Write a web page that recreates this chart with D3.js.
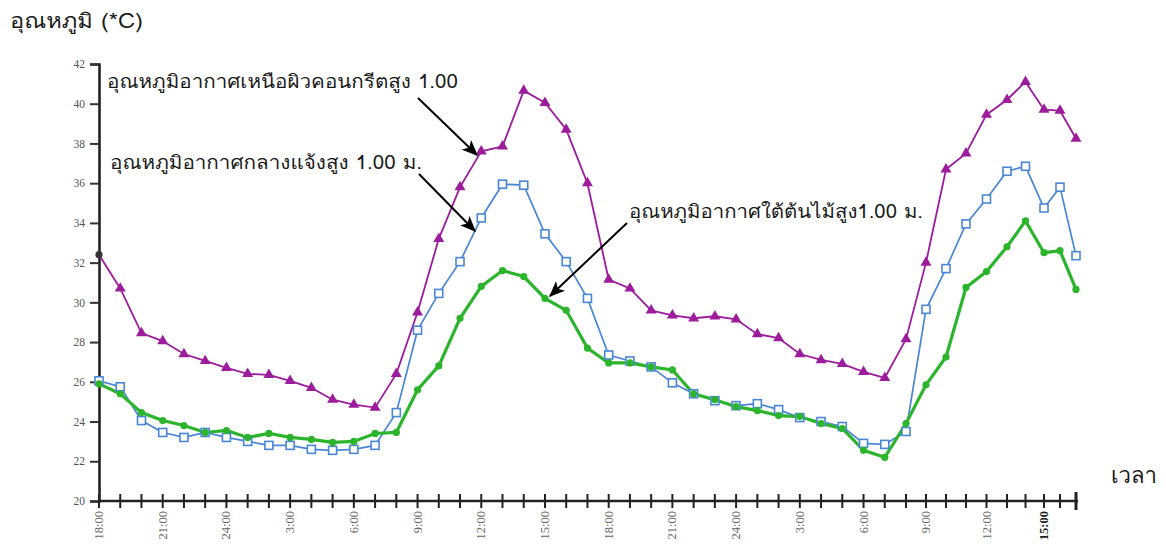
<!DOCTYPE html>
<html>
<head>
<meta charset="utf-8">
<script src="https://cdn.jsdelivr.net/npm/d3@7"></script>
<style>
  html, body { margin: 0; padding: 0; background: #fff; }
  svg { display: block; }
  .thai { font-family: "Waree", "Garuda", "Loma", "Noto Sans Thai", "Noto Sans", "DejaVu Sans", sans-serif; fill: #1a1a1a; }
  .tick-label { font-family: "Liberation Serif", "DejaVu Serif", serif; fill: #555; }
</style>
</head>
<body>
<svg id="chart" width="1166" height="550"></svg>
<script>
// Hourly readings, 18:00 on day 1 through 17:00 on day 3
const hours = d3.range(0, 48);
const tickLabels = ["18:00", "21:00", "24:00", "3:00", "6:00", "9:00", "12:00", "15:00",
                    "18:00", "21:00", "24:00", "3:00", "6:00", "9:00", "12:00", "15:00"];
const yTicks = [20, 22, 24, 26, 28, 30, 32, 34, 36, 38, 40, 42];

// Air temperature 1.00 m above the concrete surface
const concrete = [32.4, 30.7, 28.45, 28.05, 27.4, 27.05, 26.7, 26.4, 26.35, 26.05, 25.7, 25.1,
                  24.85, 24.7, 26.4, 29.5, 33.2, 35.8, 37.6, 37.85, 40.66, 40.05, 38.7, 36.0,
                  31.15, 30.7, 29.6, 29.35, 29.2, 29.3, 29.15, 28.4, 28.2, 27.4, 27.1, 26.9,
                  26.5, 26.2, 28.15, 32.0, 36.7, 37.5, 39.45, 40.2, 41.1, 39.7, 39.65, 38.25];
// Air temperature 1.00 m above open ground
const openGround = [26.05, 25.75, 24.05, 23.45, 23.2, 23.45, 23.2, 23.0, 22.8, 22.8, 22.6, 22.55,
                    22.6, 22.8, 24.45, 28.6, 30.45, 32.05, 34.25, 35.95, 35.9, 33.45, 32.05, 30.2,
                    27.35, 27.05, 26.75, 25.95, 25.4, 25.05, 24.8, 24.9, 24.6, 24.2, 24.0, 23.75,
                    22.9, 22.85, 23.5, 29.65, 31.7, 33.95, 35.2, 36.6, 36.85, 34.75, 35.8, 32.35];
// Air temperature 1.00 m high under the trees
const underTrees = [25.9, 25.4, 24.45, 24.05, 23.8, 23.45, 23.55, 23.2, 23.4, 23.2, 23.1, 22.95,
                    23.0, 23.4, 23.45, 25.6, 26.8, 29.2, 30.8, 31.6, 31.3, 30.2, 29.6, 27.7,
                    26.95, 26.95, 26.75, 26.6, 25.4, 25.1, 24.75, 24.55, 24.3, 24.25, 23.9, 23.65,
                    22.55, 22.2, 23.9, 25.85, 27.25, 30.75, 31.55, 32.8, 34.1, 32.5, 32.6, 30.65];

const svg = d3.select("#chart");

// The time axis tightens slightly over the last few hours
const x = d3.scaleLinear()
  .domain([0, 38, 41, 43, 45, 47])
  .range([99, 906, 966, 1007, 1044, 1076]);
const y = d3.scaleLinear().domain([20, 42]).range([501, 64]);

// Y axis
const yAxis = svg.append("g").attr("transform", `translate(${x(0)},0)`)
  .call(d3.axisLeft(y).tickValues(yTicks).tickSize(9).tickPadding(5).tickFormat(d3.format("d")));
yAxis.select(".domain").attr("stroke", "#222").attr("stroke-width", 2.6);
yAxis.selectAll(".tick line").attr("stroke", "#333").attr("stroke-width", 2);
yAxis.selectAll(".tick text").attr("class", "tick-label").attr("font-size", 11.5);

// X axis baseline with hourly tick marks crossing it
svg.append("line")
  .attr("x1", x(0)).attr("x2", x(47) + 2)
  .attr("y1", y(20)).attr("y2", y(20))
  .attr("stroke", "#222").attr("stroke-width", 2.6);
svg.append("g").selectAll("line").data(hours).join("line")
  .attr("x1", d => x(d)).attr("x2", d => x(d))
  .attr("y1", d => y(20) - (d === 47 ? 9 : 7))
  .attr("y2", d => y(20) + (d === 47 ? 9 : 7))
  .attr("stroke", "#222").attr("stroke-width", d => d === 47 ? 3 : 2);

svg.append("g").selectAll("text").data(tickLabels).join("text")
  .attr("class", "tick-label")
  .attr("font-size", 12.5)
  .attr("font-weight", (d, i) => i === tickLabels.length - 1 ? "bold" : "normal")
  .style("fill", (d, i) => i === tickLabels.length - 1 ? "#222" : "#666")
  .attr("text-anchor", "end")
  .attr("transform", (d, i) => `translate(${x(i * 3) + 4},511) rotate(-90)`)
  .text(d => d);

// Series lines
const line = d3.line().x((d, i) => x(i)).y(d => y(d));

svg.append("path").datum(concrete)
  .attr("fill", "none").attr("stroke", "#9c1c9c").attr("stroke-width", 1.8)
  .attr("d", line);
svg.append("path").datum(openGround)
  .attr("fill", "none").attr("stroke", "#4a86d6").attr("stroke-width", 1.7)
  .attr("d", line);
svg.append("path").datum(underTrees)
  .attr("fill", "none").attr("stroke", "#2cb52c").attr("stroke-width", 3.2)
  .attr("d", line);

// Markers: first concrete reading is drawn as a dark dot, the rest as triangles
const tri = d3.symbol().type(d3.symbolTriangle).size(52);
const dot = d3.symbol().type(d3.symbolCircle).size(40);
svg.append("g").selectAll("path").data(concrete).join("path")
  .attr("d", (d, i) => i === 0 ? dot() : tri())
  .attr("transform", (d, i) => `translate(${x(i)},${y(d)})`)
  .attr("fill", (d, i) => i === 0 ? "#333" : "#9c1c9c");

svg.append("g").selectAll("rect").data(openGround).join("rect")
  .attr("x", (d, i) => x(i) - 4).attr("y", d => y(d) - 4)
  .attr("width", 8).attr("height", 8)
  .attr("fill", "#fff").attr("stroke", "#4a86d6").attr("stroke-width", 1.6);

svg.append("g").selectAll("circle").data(underTrees).join("circle")
  .attr("cx", (d, i) => x(i)).attr("cy", d => y(d)).attr("r", 3.6)
  .attr("fill", "#2cb52c");

// Arrowhead
svg.append("defs").append("marker")
  .attr("id", "arrow").attr("viewBox", "0 0 12 10")
  .attr("refX", 11).attr("refY", 5)
  .attr("markerWidth", 8).attr("markerHeight", 7)
  .attr("markerUnits", "strokeWidth").attr("orient", "auto")
  .append("path").attr("d", "M0,0 L12,5 L0,10 L3,5 Z").attr("fill", "#000");

// Series annotations with pointer arrows
const notes = [
  { text: "อุณหภูมิอากาศเหนือผิวคอนกรีตสูง 1.00", tx: 107, ty: 88, w: 351, x1: 418, y1: 98, x2: 477, y2: 155 },
  { text: "อุณหภูมิอากาศกลางแจ้งสูง 1.00 ม.", tx: 110, ty: 169, w: 312, x1: 419, y1: 174, x2: 475, y2: 231 },
  { text: "อุณหภูมิอากาศใต้ต้นไม้สูง1.00 ม.", tx: 629, ty: 218, w: 294, x1: 627, y1: 223, x2: 550, y2: 296 }
];
notes.forEach(n => {
  svg.append("text").attr("class", "thai").attr("font-size", 18.5)
    .attr("x", n.tx).attr("y", n.ty)
    .attr("textLength", n.w).attr("lengthAdjust", "spacingAndGlyphs")
    .text(n.text);
  svg.append("line")
    .attr("x1", n.x1).attr("y1", n.y1).attr("x2", n.x2).attr("y2", n.y2)
    .attr("stroke", "#000").attr("stroke-width", 2).attr("marker-end", "url(#arrow)");
});

// Axis titles
svg.append("text").attr("class", "thai").attr("font-size", 20.5)
  .attr("x", 10).attr("y", 28)
  .attr("textLength", 133).attr("lengthAdjust", "spacingAndGlyphs")
  .text("อุณหภูมิ (*C)");
svg.append("text").attr("class", "thai").attr("font-size", 22)
  .attr("x", 1111).attr("y", 483)
  .attr("textLength", 46).attr("lengthAdjust", "spacingAndGlyphs")
  .text("เวลา");
</script>
</body>
</html>
